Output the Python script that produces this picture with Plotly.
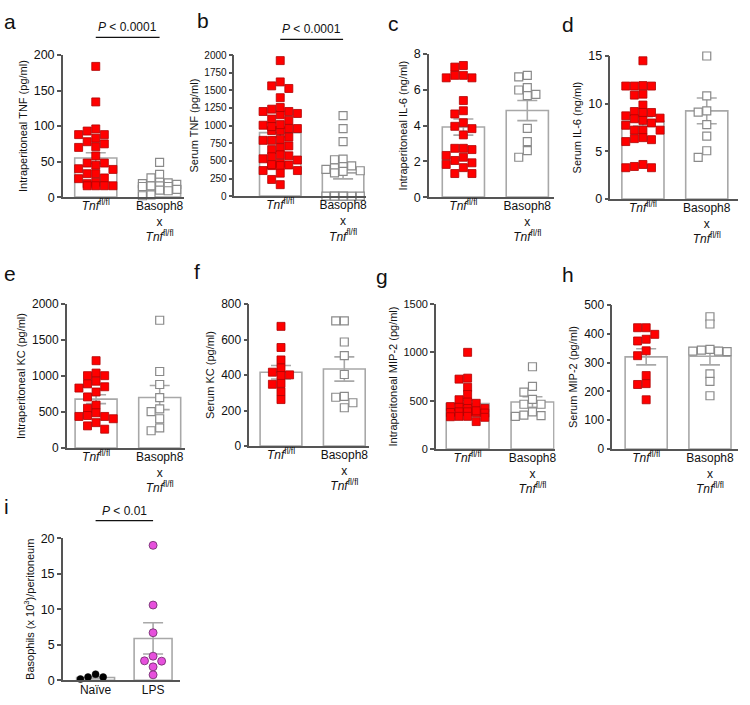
import numpy as np
import plotly.graph_objects as go

W, H = 750, 705

# ---------------- data ----------------
tnf_lbl = "<i>Tnf</i><sup>fl/fl</sup>"
bas_lbl = "Basoph8<br>x<br><i>Tnf</i><sup>fl/fl</sup>"
geno_ticks = [tnf_lbl, bas_lbl]
lps_ticks = ["Naïve", "LPS"]

a_wt = [184, 134, 96, 88, 88, 93, 78, 83, 71, 70, 75, 58, 48, 45, 48, 39, 40, 33, 26, 27, 33, 19, 21, 16, 16, 16, 16]
a_ko = [49, 32, 27, 20, 18, 19, 21, 15, 16, 16, 15, 16, 9, 10, 11, 2, 3]
a_mean = [55, 16]
a_sem = [7.5, 3]

b_wt = [1921, 1563, 1526, 1619, 1395, 1200, 1233, 1153, 1200, 1256, 1172, 1074, 1093, 1005, 958, 930, 930,
        958, 986, 1014, 837, 805, 791, 791, 688, 660, 712, 586, 558, 572, 465, 512, 530, 442, 433, 433, 447,
        363, 326, 363, 237, 163]
b_ko = [1140, 958, 772, 526, 516, 430, 420, 400, 380, 360, 350, 330, 0, 0, 0, 0, 0, 0, 0]
b_mean = [900, 330]
b_sem = [60, 85]

c_wt = [7.27, 7.36, 6.81, 6.67, 6.67, 6.81, 5.40, 4.83, 4.65, 4.16, 3.83, 3.96, 3.48, 2.73, 2.66, 2.73,
        2.23, 2.33, 1.92, 1.83, 2.05, 1.65, 1.32, 1.32]
c_ko = [6.72, 6.81, 6.12, 5.75, 5.68, 5.99, 3.85, 3.10, 2.60, 2.23]
c_mean = [3.92, 4.84]
c_sem = [0.45, 0.56]

d_wt = [14.5, 11.85, 11.85, 11.9, 11.85, 11.0, 10.9, 9.86, 9.08, 9.18, 9.08, 8.73, 8.42, 8.25, 8.49, 7.98,
        7.74, 7.23, 7.23, 7.23, 6.44, 6.23, 6.03, 6.34, 3.42, 3.29, 3.29, 3.63]
d_ko = [15.0, 10.82, 9.25, 9.11, 7.81, 6.61, 5.07, 4.38]
d_mean = [8.15, 9.25]
d_sem = [0.5, 1.35]

e_wt = [1213, 1005, 1005, 1041, 891, 928, 833, 778, 851, 710, 597, 552, 452, 439, 407, 439, 489, 353, 308, 262]
e_ko = [1774, 1063, 882, 701, 543, 507, 407, 281, 240]
e_mean = [679, 701]
e_sem = [62, 168]

f_wt = [674, 555, 485, 416, 440, 397, 401, 353, 348, 306, 262]
f_ko = [705, 705, 586, 509, 403, 280, 275, 244, 216]
f_mean = [416, 434]
f_sem = [38, 68]

g_wt = [1000, 723, 733, 639, 564, 510, 473, 486, 432, 419, 419, 439, 385, 378, 385, 395, 372, 378, 338, 328,
        334, 338, 284]
g_ko = [851, 649, 588, 463, 463, 514, 351, 338, 345, 385]
g_mean = [470, 486]
g_sem = [35, 55]

h_wt = [421, 421, 398, 375, 381, 341, 324, 255, 227, 224, 171]
h_ko = [459, 434, 346, 340, 338, 340, 343, 261, 235, 185]
h_mean = [320, 322]
h_sem = [28, 30]

i_naive = [0.46, 0.18, 0.46, 0.87]
i_lps = [19.0, 10.6, 6.7, 3.4, 2.75, 2.7, 1.9, 0.78]
i_mean = [0.4, 5.9]
i_sem = [0.15, 2.2]

# ---------------- layout / styling ----------------
FONT = "Liberation Sans, Arial, sans-serif"
AXC = "#555555"
BARC = "#a8a8a8"

RED = dict(symbol="square", size=8, color="#ff0000", line=dict(color="#b00000", width=0.8))
OPEN = dict(symbol="square", size=8, color="white", line=dict(color="#8a8a8a", width=1.2))
BLACK = dict(symbol="circle", size=7, color="black", line=dict(color="black", width=0.5))
MAG = dict(symbol="circle", size=8, color="#e650dc", line=dict(color="#6a2a66", width=0.8))

panels = [
    dict(letter="a", lx=10, ly=15, xpx=(63, 184), ypx=(49, 194), yr=(0, 200), dt=50, xr=(-0.516, 1.375),
         title="Intraperitoneal TNF (pg/ml)", g1=a_wt, g2=a_ko, m=a_mean, s=a_sem, ticks=geno_ticks,
         s1=RED, s2=OPEN, p="<i>P</i> < 0.0001", py=31, tf=12.5),
    dict(letter="b", lx=204, ly=14, xpx=(235, 367), ypx=(49, 193), yr=(0, 2000), dt=250, xr=(-0.73, 1.365),
         title="Serum TNF (pg/ml)", g1=b_wt, g2=b_ko, m=b_mean, s=b_sem, ticks=geno_ticks,
         s1=RED, s2=OPEN, p="<i>P</i> < 0.0001", py=33, tf=10),
    dict(letter="c", lx=395, ly=17, xpx=(430, 555), ypx=(48, 194), yr=(0, 8), dt=2, xr=(-0.54, 1.41),
         title="Intraperitoneal IL-6 (ng/ml)", g1=c_wt, g2=c_ko, m=c_mean, s=c_sem, ticks=geno_ticks,
         s1=RED, s2=OPEN, tf=12.5),
    dict(letter="d", lx=570, ly=18, xpx=(612, 740), ypx=(50, 196), yr=(0, 15), dt=5, xr=(-0.51, 1.49),
         title="Serum IL-6 (ng/ml)", g1=d_wt, g2=d_ko, m=d_mean, s=d_sem, ticks=geno_ticks,
         s1=RED, s2=OPEN, tf=12.5),
    dict(letter="e", lx=10, ly=272, xpx=(67, 185), ypx=(303, 450), yr=(0, 2000), dt=500, xr=(-0.46, 1.39),
         title="Intraperitoneal KC (pg/ml)", g1=e_wt, g2=e_ko, m=e_mean, s=e_sem, ticks=geno_ticks,
         s1=RED, s2=OPEN, tf=12),
    dict(letter="f", lx=198, ly=270, xpx=(250, 370), ypx=(303, 448), yr=(0, 800), dt=200, xr=(-0.5, 1.39),
         title="Serum KC (pg/ml)", g1=f_wt, g2=f_ko, m=f_mean, s=f_sem, ticks=geno_ticks,
         s1=RED, s2=OPEN, tf=12),
    dict(letter="g", lx=383, ly=275, xpx=(437, 556), ypx=(303, 451), yr=(0, 1500), dt=500, xr=(-0.49, 1.34),
         title="Intraperitoneal MIP-2 (pg/ml)", g1=g_wt, g2=g_ko, m=g_mean, s=g_sem, ticks=geno_ticks,
         s1=RED, s2=OPEN, tf=11),
    dict(letter="h", lx=570, ly=273, xpx=(614, 740), ypx=(304, 451), yr=(0, 500), dt=100, xr=(-0.53, 1.44),
         title="Serum MIP-2 (pg/ml)", g1=h_wt, g2=h_ko, m=h_mean, s=h_sem, ticks=geno_ticks,
         s1=RED, s2=OPEN, tf=12),
    dict(letter="i", lx=7, ly=510, xpx=(63, 180), ypx=(542, 687), yr=(0, 20), dt=5, xr=(-0.57, 1.46),
         title="Basophils (x 10<sup>3</sup>)/peritoneum", g1=i_naive, g2=i_lps, m=i_mean, s=i_sem,
         ticks=lps_ticks, s1=BLACK, s2=MAG, p="<i>P</i> < 0.01", py=524, tf=12.5),
]


def px_x(x):
    return x / W


def px_y(y):
    return 1 - y / H


def swarm(vals, ppy, ppx, d, maxoff):
    """Compact beeswarm: x offsets (data units), limited to +-maxoff pixels."""
    vals = np.asarray(vals, float)
    order = np.argsort(-vals)
    placed = []
    offs = np.zeros(len(vals))
    K = int(maxoff // (d / 2))
    cands = sorted([k * d / 2 for k in range(-K, K + 1)], key=lambda c: (abs(c), c))
    dy_lim = d * 0.85
    for i in order:
        y = vals[i] * ppy
        best, best_score = None, None
        for c in cands:
            score = sum(1 for px, py in placed if abs(c - px) < d and abs(y - py) < dy_lim)
            if score == 0:
                best = c
                break
            if best_score is None or score < best_score:
                best, best_score = c, score
        placed.append((best, y))
        offs[i] = best / ppx
    return offs


fig = go.Figure()
layout = dict(width=W, height=H, margin=dict(l=0, r=0, t=0, b=0), plot_bgcolor="white",
              paper_bgcolor="white", showlegend=False, font=dict(family=FONT, color="#111111"),
              annotations=[], shapes=[])

for n, P in enumerate(panels, start=1):
    xa = "x" if n == 1 else f"x{n}"
    ya = "y" if n == 1 else f"y{n}"
    xdom = [px_x(P["xpx"][0]), px_x(P["xpx"][1])]
    ydom = [px_y(P["ypx"][1]), px_y(P["ypx"][0])]
    ppx = (P["xpx"][1] - P["xpx"][0]) / (P["xr"][1] - P["xr"][0])
    ppy = (P["ypx"][1] - P["ypx"][0]) / (P["yr"][1] - P["yr"][0])

    fig.add_trace(go.Bar(x=[0, 1], y=P["m"], width=0.66, xaxis=xa, yaxis=ya,
                         marker=dict(color="white", line=dict(color=BARC, width=1.6)),
                         error_y=dict(type="data", array=P["s"], color=BARC, thickness=1.6, width=10)))
    for gi, (vals, st) in enumerate([(P["g1"], P["s1"]), (P["g2"], P["s2"])]):
        offs = swarm(vals, ppy, ppx, st["size"] + 0.6, 0.29 * ppx)
        fig.add_trace(go.Scatter(x=gi + offs, y=vals, mode="markers", marker=st, xaxis=xa, yaxis=ya,
                                 cliponaxis=False))

    kx = "xaxis" if n == 1 else f"xaxis{n}"
    ky = "yaxis" if n == 1 else f"yaxis{n}"
    layout[kx] = dict(domain=xdom, anchor=ya, range=list(P["xr"]), showline=True, linecolor=AXC, linewidth=1.5,
                      showgrid=False, zeroline=False, ticks="", tickmode="array", tickvals=[0, 1],
                      ticktext=P["ticks"], tickfont=dict(size=12, family=FONT, color="#111"), fixedrange=True,
                      ticklabelstandoff=-3)
    layout[ky] = dict(domain=ydom, anchor=xa, range=list(P["yr"]), showline=True, linecolor=AXC, linewidth=1.5,
                      showgrid=False, zeroline=False, ticks="outside", ticklen=4, tickwidth=1.5, tickcolor=AXC,
                      dtick=P["dt"], tick0=0, tickfont=dict(size=P["tf"], family=FONT, color="#111"),
                      title=dict(text=P["title"], font=dict(size=11, family=FONT, color="#111"), standoff=4),
                      fixedrange=True)

    layout["annotations"].append(dict(text=P["letter"], x=px_x(P["lx"]), y=px_y(P["ly"]), xref="paper",
                                      yref="paper", showarrow=False, xanchor="center", yanchor="middle",
                                      font=dict(size=21, family=FONT, color="#111")))
    if "p" in P:
        ly = px_y(P["py"])
        layout["shapes"].append(dict(type="line", xref=xa, yref="paper", x0=0, x1=1, y0=ly, y1=ly,
                                     line=dict(color="#111", width=1.3)))
        layout["annotations"].append(dict(text=P["p"], x=0.5, y=ly, xref=xa, yref="paper", showarrow=False,
                                          xanchor="center", yanchor="bottom", yshift=1,
                                          font=dict(size=12, family=FONT, color="#111")))

fig.update_layout(**layout)
# remove the default 8px page margin so the figure sits at the window's top-left corner
fig.write_html("out.html", config={"displayModeBar": False},
               post_script="document.body.style.margin='0px';")
